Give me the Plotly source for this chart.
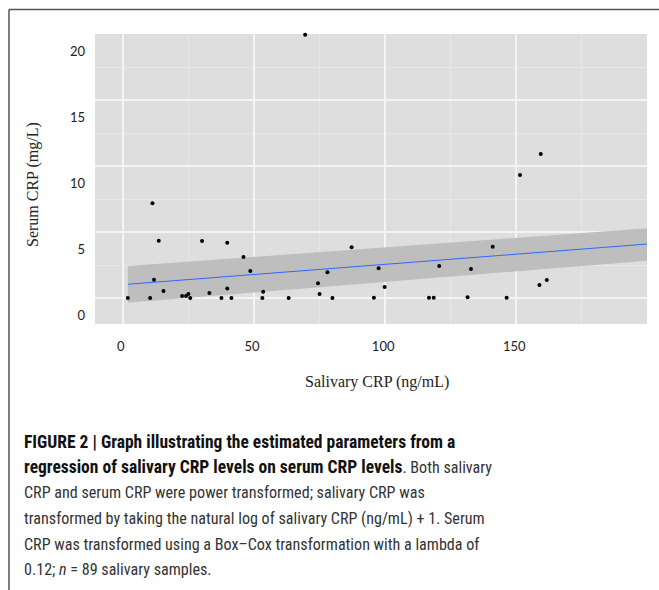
import plotly.graph_objects as go

# ---- data ----
salivary_crp = [1.9, 10.4, 11.3, 11.9, 13.7, 15.5, 22.6, 24.1, 25.0, 25.7, 30.2, 33.0,
                37.6, 39.8, 39.8, 41.4, 46.0, 48.6, 53.2, 53.5, 63.2, 69.5, 74.4, 75.0,
                78.0, 79.9, 87.2, 95.7, 97.5, 99.8, 116.7, 118.5, 120.6, 131.4, 132.7,
                141.0, 146.3, 151.4, 158.8, 159.3, 161.6]
serum_crp = [0.0, 0.0, 7.17, 1.39, 4.34, 0.53, 0.15, 0.15, 0.3, 0.0, 4.32, 0.38,
             0.0, 4.19, 0.71, 0.0, 3.11, 2.05, 0.0, 0.48, 0.0, 19.95, 1.11, 0.3,
             1.95, 0.0, 3.84, 0.02, 2.25, 0.83, 0.02, 0.02, 2.42, 0.05, 2.2,
             3.89, 0.02, 9.32, 0.98, 10.9, 1.36]

fit_x = [1.9, 200.0]
fit_y = [1.04, 4.09]
band_upper = [2.42, 5.28]
band_lower = [-0.36, 2.83]

x_ticks = [0, 50, 100, 150]
y_ticks = [0, 5, 10, 15, 20]
y_tick_labels = ["0", "5", "10", "15", "20"]

BOLD = '<span style="font-size:17.5px;font-weight:bold;fill:#111111">'
caption_lines = [
    BOLD + "FIGURE 2 | Graph illustrating the estimated parameters from a</span>",
    BOLD + "regression of salivary CRP levels on serum CRP levels</span>. Both salivary",
    "CRP and serum CRP were power transformed; salivary CRP was",
    "transformed by taking the natural log of salivary CRP (ng/mL) + 1. Serum",
    "CRP was transformed using a Box–Cox transformation with a lambda of",
    "0.12; <i>n</i> = 89 salivary samples.",
]

W, H = 659, 590
L, R, T, B = 95, 647, 34, 324


def px_x(px):
    return (px - L) / (R - L)


def px_y(py):
    return (B - py) / (B - T)


fig = go.Figure()

# confidence band
fig.add_trace(go.Scatter(
    x=fit_x + fit_x[::-1], y=band_upper + band_lower[::-1],
    fill="toself", fillcolor="#BEBEBE", line=dict(width=0),
    mode="lines", hoverinfo="skip", showlegend=False))
# regression line
fig.add_trace(go.Scatter(
    x=fit_x, y=fit_y, mode="lines", line=dict(color="#3366FF", width=1),
    showlegend=False))
# points
fig.add_trace(go.Scatter(
    x=salivary_crp, y=serum_crp, mode="markers",
    marker=dict(color="black", size=4), cliponaxis=False, showlegend=False))

tick_font = dict(family="Lato, Carlito, sans-serif", size=13, color="#222222")

fig.update_xaxes(
    range=[-10.6, 199.8], tickvals=x_ticks, ticks="", showline=False, zeroline=False,
    showgrid=True, gridcolor="#F4F4F4", gridwidth=2, tickfont=tick_font,
    ticklabelstandoff=13, ticklabelshift=-2,
    minor=dict(dtick=25, tick0=0, showgrid=True, gridcolor="#E7E7E7", gridwidth=1))
fig.update_yaxes(
    range=[-1.97, 20.0], tickvals=y_ticks, ticktext=y_tick_labels, ticks="",
    showline=False, zeroline=False, showgrid=True, gridcolor="#F4F4F4", gridwidth=2,
    tickfont=tick_font, ticklabelshift=17, ticklabelstandoff=9,
    minor=dict(dtick=2.5, tick0=0, showgrid=True, gridcolor="#E7E7E7", gridwidth=1))

annotations = [
    dict(text="Salivary CRP (ng/mL)", x=px_x(377), y=px_y(382), xref="paper", yref="paper",
         showarrow=False, xanchor="center", yanchor="middle",
         font=dict(family="Liberation Serif, Times New Roman, serif", size=16, color="#222222")),
    dict(text="Serum CRP (mg/L)", x=px_x(33), y=px_y(185), xref="paper", yref="paper",
         showarrow=False, xanchor="center", yanchor="middle", textangle=-90,
         font=dict(family="Liberation Serif, Times New Roman, serif", size=16, color="#222222")),
]
# caption lines
cap_top, cap_step = 441.7, 25.6
for i, line in enumerate(caption_lines):
    annotations.append(dict(
        text=line, x=px_x(22), y=px_y(cap_top + i * cap_step), xref="paper", yref="paper",
        showarrow=False, xanchor="left", yanchor="middle", align="left",
        font=dict(family="Liberation Sans Narrow, Roboto Condensed, Roboto, sans-serif",
                  size=16.1, color="#333333")))

shapes = [
    dict(type="line", xref="paper", yref="paper", x0=px_x(9), x1=px_x(W), y0=px_y(9.5), y1=px_y(9.5),
         line=dict(color="#555555", width=1.5)),
    dict(type="line", xref="paper", yref="paper", x0=px_x(9), x1=px_x(9), y0=px_y(H), y1=px_y(9.5),
         line=dict(color="#555555", width=1.5)),
]

fig.update_layout(
    width=W, height=H, autosize=False,
    margin=dict(l=L, r=W - R, t=T, b=H - B),
    plot_bgcolor="#DEDEDE", paper_bgcolor="white",
    showlegend=False, annotations=annotations, shapes=shapes,
)

fig.write_html("out.html")
